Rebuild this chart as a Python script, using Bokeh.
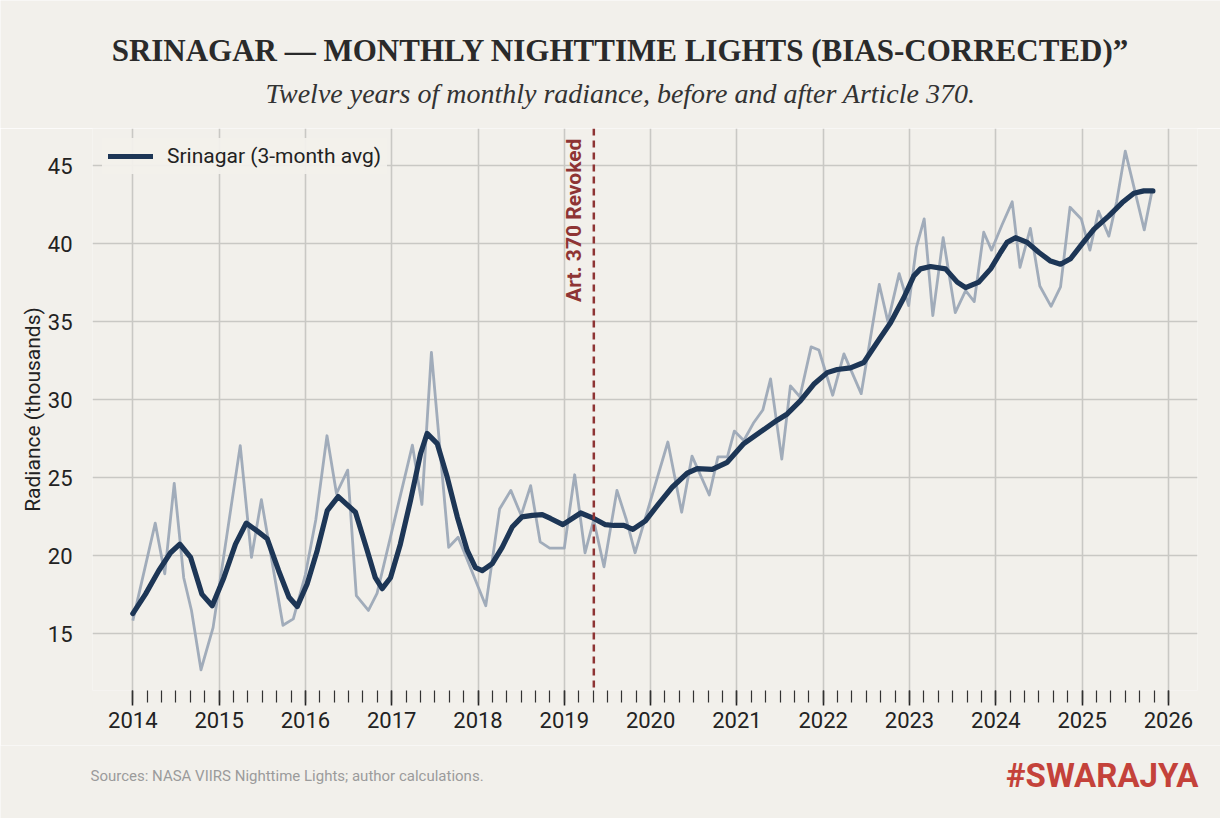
from bokeh.plotting import figure
from bokeh.models import FixedTicker, Span, Label, ColumnDataSource
from bokeh.layouts import column
from bokeh.core.properties import value
from bokeh.embed import file_html
from bokeh.resources import INLINE
import math

# ---------------- data ----------------
raw_t = [2014.00, 2014.26, 2014.37, 2014.48, 2014.59, 2014.68, 2014.79, 2014.93,
         2015.245, 2015.375, 2015.49, 2015.74, 2015.86, 2016.00, 2016.12,
         2016.25, 2016.36, 2016.49, 2016.59, 2016.73, 2016.83,
         2017.24, 2017.35, 2017.46, 2017.66, 2017.77, 2018.09,
         2018.25, 2018.38, 2018.50, 2018.61, 2018.72, 2018.83, 2019.00,
         2019.12, 2019.24, 2019.34, 2019.46, 2019.61, 2019.72, 2019.82,
         2020.20, 2020.36, 2020.48, 2020.68, 2020.78, 2020.89, 2020.97,
         2021.08, 2021.19, 2021.30, 2021.39, 2021.52, 2021.62, 2021.73,
         2021.86, 2021.95, 2022.11, 2022.24, 2022.44, 2022.65, 2022.75,
         2022.88, 2022.99, 2023.08, 2023.17, 2023.27, 2023.39, 2023.53,
         2023.65, 2023.75, 2023.86, 2023.95, 2024.07, 2024.19, 2024.28,
         2024.40, 2024.51, 2024.64, 2024.75, 2024.86, 2024.99, 2025.09,
         2025.19, 2025.31, 2025.40, 2025.50, 2025.72, 2025.81]
raw_v = [15.85, 22.1, 18.85, 24.65, 18.6, 16.5, 12.7, 15.4,
         27.07, 19.9, 23.6, 15.55, 15.96, 18.8, 22.3,
         27.7, 24.0, 25.5, 17.45, 16.5, 17.6,
         27.1, 23.3, 33.05, 20.55, 21.2, 16.8,
         23.0, 24.2, 22.6, 24.5, 20.9, 20.5, 20.5,
         25.2, 20.2, 22.3, 19.3, 24.2, 22.3, 20.2,
         27.3, 22.8, 26.4, 23.9, 26.35, 26.35, 28.0,
         27.4, 28.5, 29.35, 31.35, 26.2, 30.9, 30.2,
         33.4, 33.2, 30.3, 32.95, 30.4, 37.4, 35.0,
         38.1, 36.05, 39.8, 41.6, 35.4, 40.4, 35.6,
         37.0, 36.3, 40.75, 39.6, 41.2, 42.7, 38.5,
         41.0, 37.3, 36.0, 37.25, 42.35, 41.6, 39.6,
         42.1, 40.5, 42.7, 45.95, 40.9, 43.4]

avg_t = [2014.00, 2014.147, 2014.30, 2014.437, 2014.545, 2014.67, 2014.80, 2014.92,
         2015.055, 2015.19, 2015.314, 2015.44, 2015.557, 2015.69, 2015.81, 2015.905,
         2016.02, 2016.137, 2016.253, 2016.38, 2016.58, 2016.716, 2016.81, 2016.89,
         2016.986, 2017.10, 2017.218, 2017.334, 2017.41, 2017.527, 2017.643, 2017.76,
         2017.875, 2017.97, 2018.05, 2018.165, 2018.28, 2018.396, 2018.51, 2018.628,
         2018.744, 2018.84, 2018.983, 2019.19, 2019.342, 2019.477, 2019.574, 2019.69,
         2019.794, 2019.94, 2020.095, 2020.25, 2020.424, 2020.54, 2020.714, 2020.888,
         2021.08, 2021.273, 2021.467, 2021.583, 2021.737, 2021.89, 2022.046, 2022.162,
         2022.316, 2022.47, 2022.626, 2022.78, 2022.934, 2023.05, 2023.127, 2023.243,
         2023.417, 2023.553, 2023.65, 2023.803, 2023.94, 2024.054, 2024.13, 2024.228,
         2024.364, 2024.50, 2024.634, 2024.75, 2024.866, 2025.00, 2025.138, 2025.31,
         2025.465, 2025.60, 2025.715, 2025.82]
avg_v = [16.3, 17.55, 19.05, 20.2, 20.75, 19.9, 17.55, 16.8,
         18.6, 20.75, 22.1, 21.6, 21.1, 19.05, 17.35, 16.75,
         18.2, 20.35, 22.9, 23.8, 22.8, 20.35, 18.6, 17.9,
         18.6, 20.75, 23.55, 26.55, 27.85, 27.2, 25.05, 22.5,
         20.35, 19.25, 19.05, 19.5, 20.55, 21.85, 22.5, 22.6,
         22.65, 22.4, 22.0, 22.75, 22.4, 22.0, 21.95, 21.95,
         21.7, 22.25, 23.35, 24.4, 25.3, 25.6, 25.55, 26.0,
         27.2, 27.95, 28.7, 29.1, 29.95, 31.0, 31.75, 31.95,
         32.05, 32.4, 33.7, 34.95, 36.55, 37.95, 38.4, 38.55,
         38.4, 37.55, 37.2, 37.55, 38.4, 39.45, 40.1, 40.4,
         40.1, 39.45, 38.9, 38.7, 39.05, 40.0, 40.95, 41.8,
         42.65, 43.25, 43.4, 43.4]

event_t = 2019.342
event_label = "Art. 370 Revoked"
year_ticks = list(range(2014, 2027))
y_ticks = [15, 20, 25, 30, 35, 40, 45]
series_label = "Srinagar (3-month avg)"
title_text = "SRINAGAR \u2014 MONTHLY NIGHTTIME LIGHTS (BIAS-CORRECTED)\u201d"
subtitle_text = "Twelve years of monthly radiance, before and after Article 370."
source_text = "Sources: NASA VIIRS Nighttime Lights; author calculations."
brand_text = "#SWARAJYA"

# ---------------- styling ----------------
BG = "#f2f0eb"
GRID = "#c9c8c4"
RAW = "#9ca8b7"
AVG = "#1d3656"
RED = "#8e3434"
TXT = "#222222"

W = 1220
HEAD_H, FOOT_H = 128, 73
MAIN_H = 818 - HEAD_H - FOOT_H


def blank(height):
    f = figure(width=W, height=height, output_backend="svg", toolbar_location=None,
               x_range=(0, W), y_range=(height, 0), x_axis_type=None, y_axis_type=None,
               min_border=0, background_fill_color=BG, border_fill_color=BG,
               frame_align=False)
    f.outline_line_color = None
    f.xgrid.visible = False
    f.ygrid.visible = False
    return f


# header
head = blank(HEAD_H)
head.text(x=[620], y=[50], text=[title_text], text_align="center", text_baseline="middle",
          text_font=value("Liberation Serif"), text_font_style="bold",
          text_font_size="31px", text_color="#2a2a2a")
head.text(x=[620], y=[93], text=[subtitle_text], text_align="center", text_baseline="middle",
          text_font=value("Liberation Serif"), text_font_style="italic",
          text_font_size="28px", text_color="#333333")

# main chart
p = figure(width=W, height=MAIN_H, output_backend="svg", toolbar_location=None,
           x_range=(2013.533, 2026.337), y_range=(11.37, 47.4),
           min_border_left=92, min_border_right=23, min_border_top=0, min_border_bottom=55,
           background_fill_color=BG, border_fill_color=BG, frame_align=False)
p.outline_line_color = None

raw_src = ColumnDataSource(dict(t=raw_t, v=raw_v))
avg_src = ColumnDataSource(dict(t=avg_t, v=avg_v))

p.line("t", "v", source=raw_src, line_color=RAW, line_width=2.8, line_alpha=0.95,
       line_join="round")
p.line("t", "v", source=avg_src, line_color=AVG, line_width=5.2, line_join="round",
       line_cap="round", legend_label=series_label)

p.add_layout(Span(location=event_t, dimension="height", line_color=RED, line_width=2.5,
                  line_dash="7 5"))
p.add_layout(Label(x=event_t, y=46.75, x_offset=-8, text=event_label, angle=math.pi / 2,
                   text_align="right", text_baseline="bottom", text_color=RED,
                   text_font="Roboto", text_font_style="bold", text_font_size="21px"))

minor = [2014 + i / 6 for i in range(0, 73)]
p.xaxis.ticker = FixedTicker(ticks=year_ticks, minor_ticks=minor)
p.yaxis.ticker = FixedTicker(ticks=y_ticks)
for ax in (p.xaxis, p.yaxis):
    ax.axis_line_color = None
    ax.major_label_text_font = "Roboto"
    ax.major_label_text_font_size = "22px"
    ax.major_label_text_color = TXT
p.xaxis.major_tick_in = 0
p.xaxis.major_tick_out = 15
p.xaxis.minor_tick_in = 0
p.xaxis.minor_tick_out = 12
p.xaxis.major_tick_line_color = "#222222"
p.xaxis.major_tick_line_width = 1.6
p.xaxis.minor_tick_line_color = "#333333"
p.xaxis.minor_tick_line_width = 1.2
p.xaxis.major_label_standoff = 6
p.yaxis.major_tick_line_color = None
p.yaxis.minor_tick_line_color = None
p.yaxis.major_label_standoff = 14
p.yaxis.axis_label = "Radiance (thousands)"
p.yaxis.axis_label_text_font = "Roboto"
p.yaxis.axis_label_text_font_style = "normal"
p.yaxis.axis_label_text_font_size = "21px"
p.yaxis.axis_label_text_color = TXT
p.yaxis.axis_label_standoff = 0

p.xgrid.grid_line_color = GRID
p.ygrid.grid_line_color = GRID
p.xgrid.grid_line_width = 1.6
p.ygrid.grid_line_width = 1.6

lg = p.legend[0]
lg.location = "top_left"
lg.margin = 10
lg.padding = 6
lg.label_text_font = "Roboto"
lg.label_text_font_size = "21px"
lg.label_text_color = TXT
lg.glyph_width = 45
lg.label_standoff = 14
lg.background_fill_color = BG
lg.background_fill_alpha = 0.95
lg.border_line_alpha = 0

# footer
foot = blank(FOOT_H)
foot.text(x=[90], y=[30], text=[source_text], text_align="left", text_baseline="middle",
          text_font=value("Roboto"), text_font_size="15px", text_color="#9b9b9b")
foot.text(x=[1198], y=[30], text=[brand_text], text_align="right", text_baseline="middle",
          text_font=value("Roboto"), text_font_style="bold", text_font_size="33px",
          text_color="#c4423a")

layout = column(head, p, foot, spacing=0)
open("out.html", "w").write(file_html(layout, INLINE))
